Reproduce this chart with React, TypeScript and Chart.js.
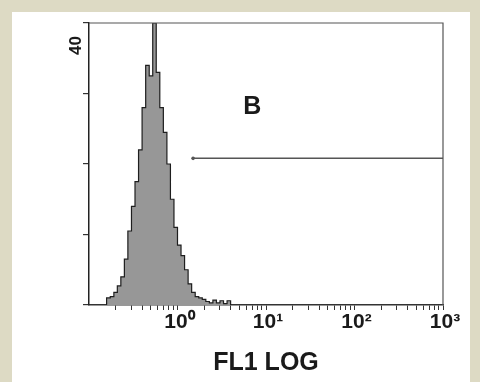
import React, { useEffect, useRef } from "react";
import { Chart, registerables } from "chart.js";

Chart.register(...registerables);

// Histogram bin edges on the FL1 (log) axis: left edge of each bin, plus the final right edge
const binEdgesFL1 = [
  0.158, 0.174, 0.191, 0.209, 0.229, 0.251, 0.275, 0.302, 0.331, 0.363,
  0.398, 0.437, 0.479, 0.525, 0.575, 0.631, 0.692, 0.759, 0.832, 0.912,
  1.0, 1.096, 1.202, 1.318, 1.445, 1.585, 1.738, 1.905, 2.089, 2.291,
  2.512, 2.754, 3.02, 3.311, 3.631, 3.981,
];
// Event counts per bin
const binCounts = [
  1.0, 1.2, 1.8, 2.7, 4.0, 6.5, 10.5, 14.0, 17.5, 22.0,
  28.0, 34.0, 32.5, 40.0, 33.0, 28.0, 24.5, 20.0, 15.0, 11.0,
  8.5, 7.0, 5.0, 3.0, 1.8, 1.2, 1.0, 0.8, 0.5, 0.3,
  0.7, 0.3, 0.6, 0.2, 0.6,
];

const xTickValues = [
  0.2, 0.3, 0.4, 0.5, 0.6, 0.7, 0.8, 0.9,
  1, 2, 3, 4, 5, 6, 7, 8, 9,
  10, 20, 30, 40, 50, 60, 70, 80, 90,
  100, 200, 300, 400, 500, 600, 700, 800, 900, 1000,
];
const xMajorValues = [1, 10, 100, 1000];
const xMajorLabels = ["10⁰", "10¹", "10²", "10³"];
const yTickValues = [0, 10, 20, 30, 40];
const yLabelledValue = 40;

// Marker (gate) line
const gateFL1 = [1.5, 1000];
const gateCount = 20.8;

const panelLabel = "B";
const panelLabelFL1 = 7;
const panelLabelCount = 28;
const xTitle = "FL1 LOG";

const FONT = '"Liberation Sans", Arial, Helvetica, sans-serif';

export default function App() {
  const ref = useRef<HTMLCanvasElement | null>(null);

  useEffect(() => {
    if (!ref.current) return;
    const histPoints: { x: number; y: number }[] = [{ x: binEdgesFL1[0], y: 0 }];
    binCounts.forEach((c, i) => histPoints.push({ x: binEdgesFL1[i], y: c }));
    histPoints.push({ x: binEdgesFL1[binEdgesFL1.length - 1], y: 0 });

    const gatePoints = gateFL1.map((v) => ({ x: v, y: gateCount }));

    const framePlugin = {
      id: "frameAndLabel",
      afterDatasetsDraw(chart: any) {
        const { ctx, chartArea, scales } = chart;
        const { left, right, top, bottom } = chartArea;
        ctx.save();
        ctx.strokeStyle = "#555";
        ctx.lineWidth = 1.2;
        ctx.beginPath();
        ctx.moveTo(left, top);
        ctx.lineTo(right, top);
        ctx.lineTo(right, bottom);
        ctx.stroke();
        ctx.font = `bold 25px ${FONT}`;
        ctx.fillStyle = "#1a1a1a";
        ctx.textAlign = "center";
        ctx.textBaseline = "middle";
        ctx.fillText(
          panelLabel,
          scales.x.getPixelForValue(panelLabelFL1),
          scales.y.getPixelForValue(panelLabelCount)
        );
        ctx.restore();
      },
    };

    const chart = new Chart(ref.current, {
      type: "line",
      data: {
        datasets: [
          {
            data: histPoints,
            stepped: true,
            fill: "origin",
            backgroundColor: "#979797",
            borderColor: "#1e1e1e",
            borderWidth: 1.2,
            pointRadius: 0,
            tension: 0,
          },
          {
            data: gatePoints,
            fill: false,
            borderColor: "#555",
            borderWidth: 1.5,
            pointRadius: [1.8, 0],
            pointBackgroundColor: "#555",
            pointBorderWidth: 0,
          },
        ],
      },
      plugins: [framePlugin],
      options: {
        animation: false,
        responsive: true,
        maintainAspectRatio: false,
        devicePixelRatio: 1,
        layout: { padding: { top: 11, right: 27, left: 0, bottom: 0 } },
        plugins: {
          legend: { display: false },
          tooltip: { enabled: false },
        },
        scales: {
          x: {
            type: "logarithmic",
            min: 0.1,
            max: 1000,
            afterBuildTicks: (scale: any) => {
              scale.ticks = xTickValues.map((v) => ({ value: v }));
            },
            afterFit: (scale: any) => {
              scale.height = 77;
              scale.paddingLeft = 0;
              scale.paddingRight = 0;
            },
            ticks: {
              autoSkip: false,
              maxRotation: 0,
              minRotation: 0,
              padding: 0,
              labelOffset: 2,
              color: "#1a1a1a",
              font: { family: FONT, size: 21, weight: "bold" },
              callback: (value: any) => {
                const idx = xMajorValues.indexOf(Number(value));
                return idx >= 0 ? xMajorLabels[idx] : "";
              },
            },
            grid: {
              display: true,
              drawOnChartArea: false,
              drawTicks: true,
              tickLength: 5,
              color: "#333",
              lineWidth: 1,
            },
            border: { display: true, color: "#333", width: 1.5 },
            title: {
              display: true,
              text: xTitle,
              color: "#1a1a1a",
              font: { family: FONT, size: 25, weight: "bold" },
              padding: { top: 0, bottom: 4 },
            },
          },
          y: {
            type: "linear",
            min: 0,
            max: 40,
            afterBuildTicks: (scale: any) => {
              scale.ticks = yTickValues.map((v) => ({ value: v }));
            },
            afterFit: (scale: any) => {
              scale.width = 77;
              scale.paddingTop = 0;
              scale.paddingBottom = 0;
            },
            ticks: {
              autoSkip: false,
              minRotation: 90,
              maxRotation: 90,
              padding: 7,
              labelOffset: 13,
              color: "#1a1a1a",
              font: { family: FONT, size: 17, weight: "bold" },
              callback: (value: any) => (Number(value) === yLabelledValue ? String(value) : ""),
            },
            grid: {
              display: true,
              drawOnChartArea: false,
              drawTicks: true,
              tickLength: 6,
              color: "#333",
              lineWidth: 1.2,
            },
            border: { display: true, color: "#222", width: 1.5 },
          },
        },
      },
    });
    return () => chart.destroy();
  }, []);

  return (
    <div
      style={{
        position: "fixed",
        left: 0,
        top: 0,
        width: 480,
        height: 382,
        background: "#dddac4",
      }}
    >
      <div
        style={{
          position: "absolute",
          left: 12,
          top: 12,
          width: 458,
          height: 370,
          background: "#ffffff",
        }}
      >
        <canvas ref={ref} />
      </div>
    </div>
  );
}
